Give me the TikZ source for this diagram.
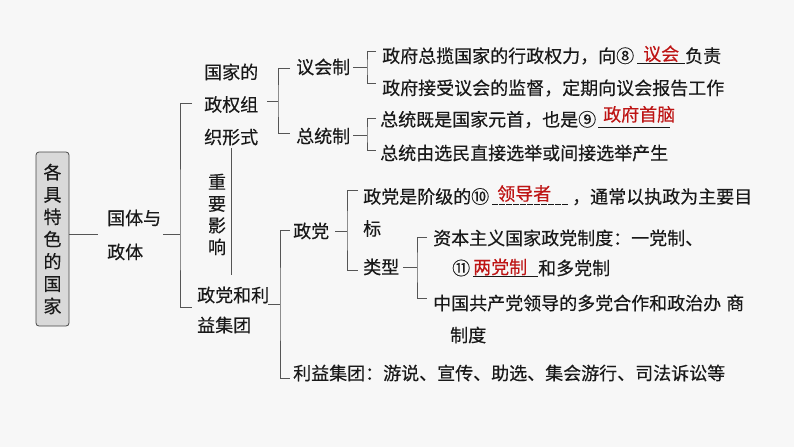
\documentclass[tikz,border=0pt]{standalone}
\usepackage{fontspec}
\newfontfamily\cjk[FakeBold=0.35]{Noto Sans CJK SC}
\definecolor{bgcol}{RGB}{247,247,247}
\definecolor{lncol}{RGB}{85,85,85}
\definecolor{txcol}{RGB}{25,25,25}
\definecolor{anscol}{RGB}{190,20,20}
\definecolor{boxfill}{RGB}{217,217,217}
\definecolor{boxline}{RGB}{70,70,70}
% #1 width, #2 answer, #3 left offset, #4 raise
\newcommand\fillin[4]{\makebox[0pt][l]{\rule[-1.5pt]{#1}{0.8pt}}\makebox[#1][l]{\hspace*{#3}\raisebox{#4}{\textcolor{anscol}{#2}}}}
\newcommand\fillindash[4]{\makebox[0pt][l]{\raisebox{-1.5pt}{\leaders\hbox to 7pt{\rule{6pt}{0.8pt}\hfil}\hskip #1}}\makebox[#1][l]{\hspace*{#3}\raisebox{#4}{\textcolor{anscol}{#2}}}}
\begin{document}
\begin{tikzpicture}[x=1pt,y=-1pt,
  every node/.style={inner sep=0pt, text=txcol, font=\cjk\fontsize{18}{18}\selectfont},
  conn/.style={draw=lncol, line width=0.9pt},
  rootbox/.style={draw=boxline, fill=boxfill, line width=0.8pt, rounded corners=3pt,
    minimum width=33pt, minimum height=174pt, align=center, text width=18pt,
    font=\cjk\fontsize{18}{22.3}\selectfont},
  lead/.style={font=\cjk\fontsize{18}{#1}\selectfont}]
\fill[bgcol] (0,0) rectangle (794,447);
\useasboundingbox (0,0) rectangle (794,447);

% nodes
\node[rootbox] (root) at (52.5,239) {各\\具\\特\\色\\的\\国\\家};
\node[anchor=west, align=left, lead=34] (gt) at (107,235) {国体与\\政体};
\node[anchor=west, align=left, lead=32.5] (zq) at (204,104.5) {国家的\\政权组\\织形式};
\node[anchor=west, align=left, lead=30] (zd) at (197,310) {政党和利\\益集团};
\node[align=center, text width=18pt, lead=21.7] (yx) at (217,214.5) {重\\要\\影\\响};
\node[anchor=west] (yh) at (296,67) {议会制};
\node[anchor=west] (zt) at (296,136) {总统制};
\node[anchor=west] (a1) at (382,55) {政府总揽国家的行政权力，向⑧\hspace*{3pt}\fillin{48pt}{议会}{6pt}{2pt}负责};
\node[anchor=west] (a2) at (382,88) {政府接受议会的监督，定期向议会报告工作};
\node[anchor=west] (b1) at (380,117) {总统既是国家元首，也是⑨\hspace*{2pt}\fillin{72pt}{政府首脑}{5pt}{5pt}};
\node[anchor=west] (b2) at (380,153) {总统由选民直接选举或间接选举产生};
\node[anchor=west] (zdang) at (293,231) {政党};
\node[anchor=west, align=left, lead=32] (c1) at (363,211) {政党是阶级的⑩\hspace*{3pt}\fillindash{80pt}{领导者}{5pt}{3pt}，通常以执政为主要目\\标};
\node[anchor=west] (lx) at (363,267) {类型};
\node[anchor=west, align=left, lead=30] (d1) at (433,253) {资本主义国家政党制度：一党制、\\\hspace*{19pt}⑪\hspace*{3pt}\fillin{65pt}{两党制}{0pt}{1pt}和多党制};
\node[anchor=west, align=left, lead=32] (d2) at (433,319) {中国共产党领导的多党合作和政治办\hspace*{5pt}商\\\hspace*{17pt}制度};
\node[anchor=west] (lyjt) at (293,373) {利益集团：游说、宣传、助选、集会游行、司法诉讼等};

% coordinates of brackets
\coordinate (gtin) at (98,234);
\coordinate (k1) at (180,234);  \coordinate (k1t) at (192,103); \coordinate (k1b) at (192,307);
\coordinate (k2) at (278,101);  \coordinate (k2t) at (290,68);  \coordinate (k2b) at (290,133);
\coordinate (k3) at (367,67);   \coordinate (k3t) at (376,51);  \coordinate (k3b) at (376,83);
\coordinate (k4) at (367,135);  \coordinate (k4t) at (376,118); \coordinate (k4b) at (376,150);
\coordinate (k5) at (280,304);  \coordinate (k5t) at (290,230); \coordinate (k5b) at (290,378);
\coordinate (k6) at (347,231);  \coordinate (k6t) at (358,190); \coordinate (k6b) at (358,270);
\coordinate (k7) at (417,267);  \coordinate (k7t) at (427,237); \coordinate (k7b) at (427,298);
\coordinate (yxt) at (231,148); \coordinate (yxb) at (231,275);

% connectors
\draw[conn] (root.east |- gtin) -- (gtin);
\draw[conn] ([xshift=2pt]gt.east |- k1) -- (k1);
\draw[conn] (k1t) -| (k1) |- (k1b);
\draw[conn] ([xshift=9pt]zq.east |- k2) -- (k2);
\draw[conn] (k2t) -| (k2) |- (k2b);
\draw[conn] ([xshift=3pt]yh.east |- k3) -- (k3);
\draw[conn] (k3t) -| (k3) |- (k3b);
\draw[conn] ([xshift=3pt]zt.east |- k4) -- (k4);
\draw[conn] (k4t) -| (k4) |- (k4b);
\draw[conn] ([xshift=-1pt]zd.east |- k5) -- (k5);
\draw[conn] (k5t) -| (k5) |- (k5b);
\draw[conn] ([xshift=6pt]zdang.east |- k6) -- (k6);
\draw[conn] (k6t) -| (k6) |- (k6b);
\draw[conn] ([xshift=4pt]lx.east |- k7) -- (k7);
\draw[conn] (k7t) -| (k7) |- (k7b);
\draw[conn] (yxt) -- (yxb);
\end{tikzpicture}
\end{document}
